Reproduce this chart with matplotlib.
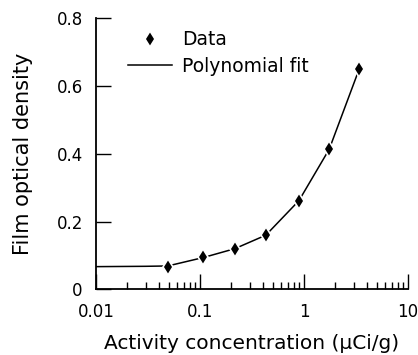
import matplotlib
matplotlib.use("Agg")
import matplotlib.pyplot as plt
from matplotlib.ticker import FixedLocator, FixedFormatter, LogLocator, NullFormatter

plt.rcParams['font.family'] = ['DejaVu Sans']

# Data
data_x = [0.049, 0.108, 0.216, 0.43, 0.895, 1.75, 3.4]
data_y = [0.067, 0.096, 0.120, 0.160, 0.262, 0.414, 0.651]

fit_x = [0.01, 0.03, 0.049, 0.108, 0.216, 0.43, 0.895, 1.75, 3.4]
fit_y = [0.067, 0.068, 0.069, 0.094, 0.120, 0.160, 0.262, 0.414, 0.651]

x_ticks = [0.01, 0.1, 1, 10]
x_ticklabels = ["0.01", "0.1", "1", "10"]
y_ticks = [0, 0.2, 0.4, 0.6, 0.8]
y_ticklabels = ["0", "0.2", "0.4", "0.6", "0.8"]

fig = plt.figure(figsize=(4.18, 3.55), dpi=100)
ax = fig.add_axes([0.2297, 0.185, 0.976 - 0.2297, 0.948 - 0.185])

ax.plot(fit_x, fit_y, color='black', lw=1.1, label='Polynomial fit', zorder=2)
ax.plot(data_x, data_y, linestyle='none', marker='d', markersize=8,
        markerfacecolor='black', markeredgecolor='white', markeredgewidth=1.2,
        label='Data', zorder=3)

ax.set_xscale('log')
ax.set_xlim(0.01, 10)
ax.set_ylim(0, 0.8)

ax.xaxis.set_major_locator(FixedLocator(x_ticks))
ax.xaxis.set_major_formatter(FixedFormatter(x_ticklabels))
ax.xaxis.set_minor_locator(LogLocator(base=10, subs=range(2, 10)))
ax.xaxis.set_minor_formatter(NullFormatter())
ax.yaxis.set_major_locator(FixedLocator(y_ticks))
ax.yaxis.set_major_formatter(FixedFormatter(y_ticklabels))

for s in ['top', 'right']:
    ax.spines[s].set_visible(False)
for s in ['left', 'bottom']:
    ax.spines[s].set_linewidth(1.3)

ax.tick_params(axis='both', which='major', direction='in', length=11, width=1.0,
               labelsize=12, pad=10)
ax.tick_params(axis='x', which='minor', direction='in', length=5, width=1.0)
ax.tick_params(axis='y', which='major', pad=9.5)

ax.set_xlabel('Activity concentration (\u03bcCi/g)', fontsize=14.5, labelpad=9)
ax.set_ylabel('Film optical density', fontsize=15, labelpad=17)

handles, labels = ax.get_legend_handles_labels()
leg = ax.legend(handles[::-1], labels[::-1], loc='upper left',
                bbox_to_anchor=(0.1026, 0.957), frameon=False, fontsize=13.5,
                handlelength=2.35, handletextpad=0.53, labelspacing=0.41,
                borderaxespad=0.0, borderpad=0.0)

fig.savefig('out.png', dpi=100)
